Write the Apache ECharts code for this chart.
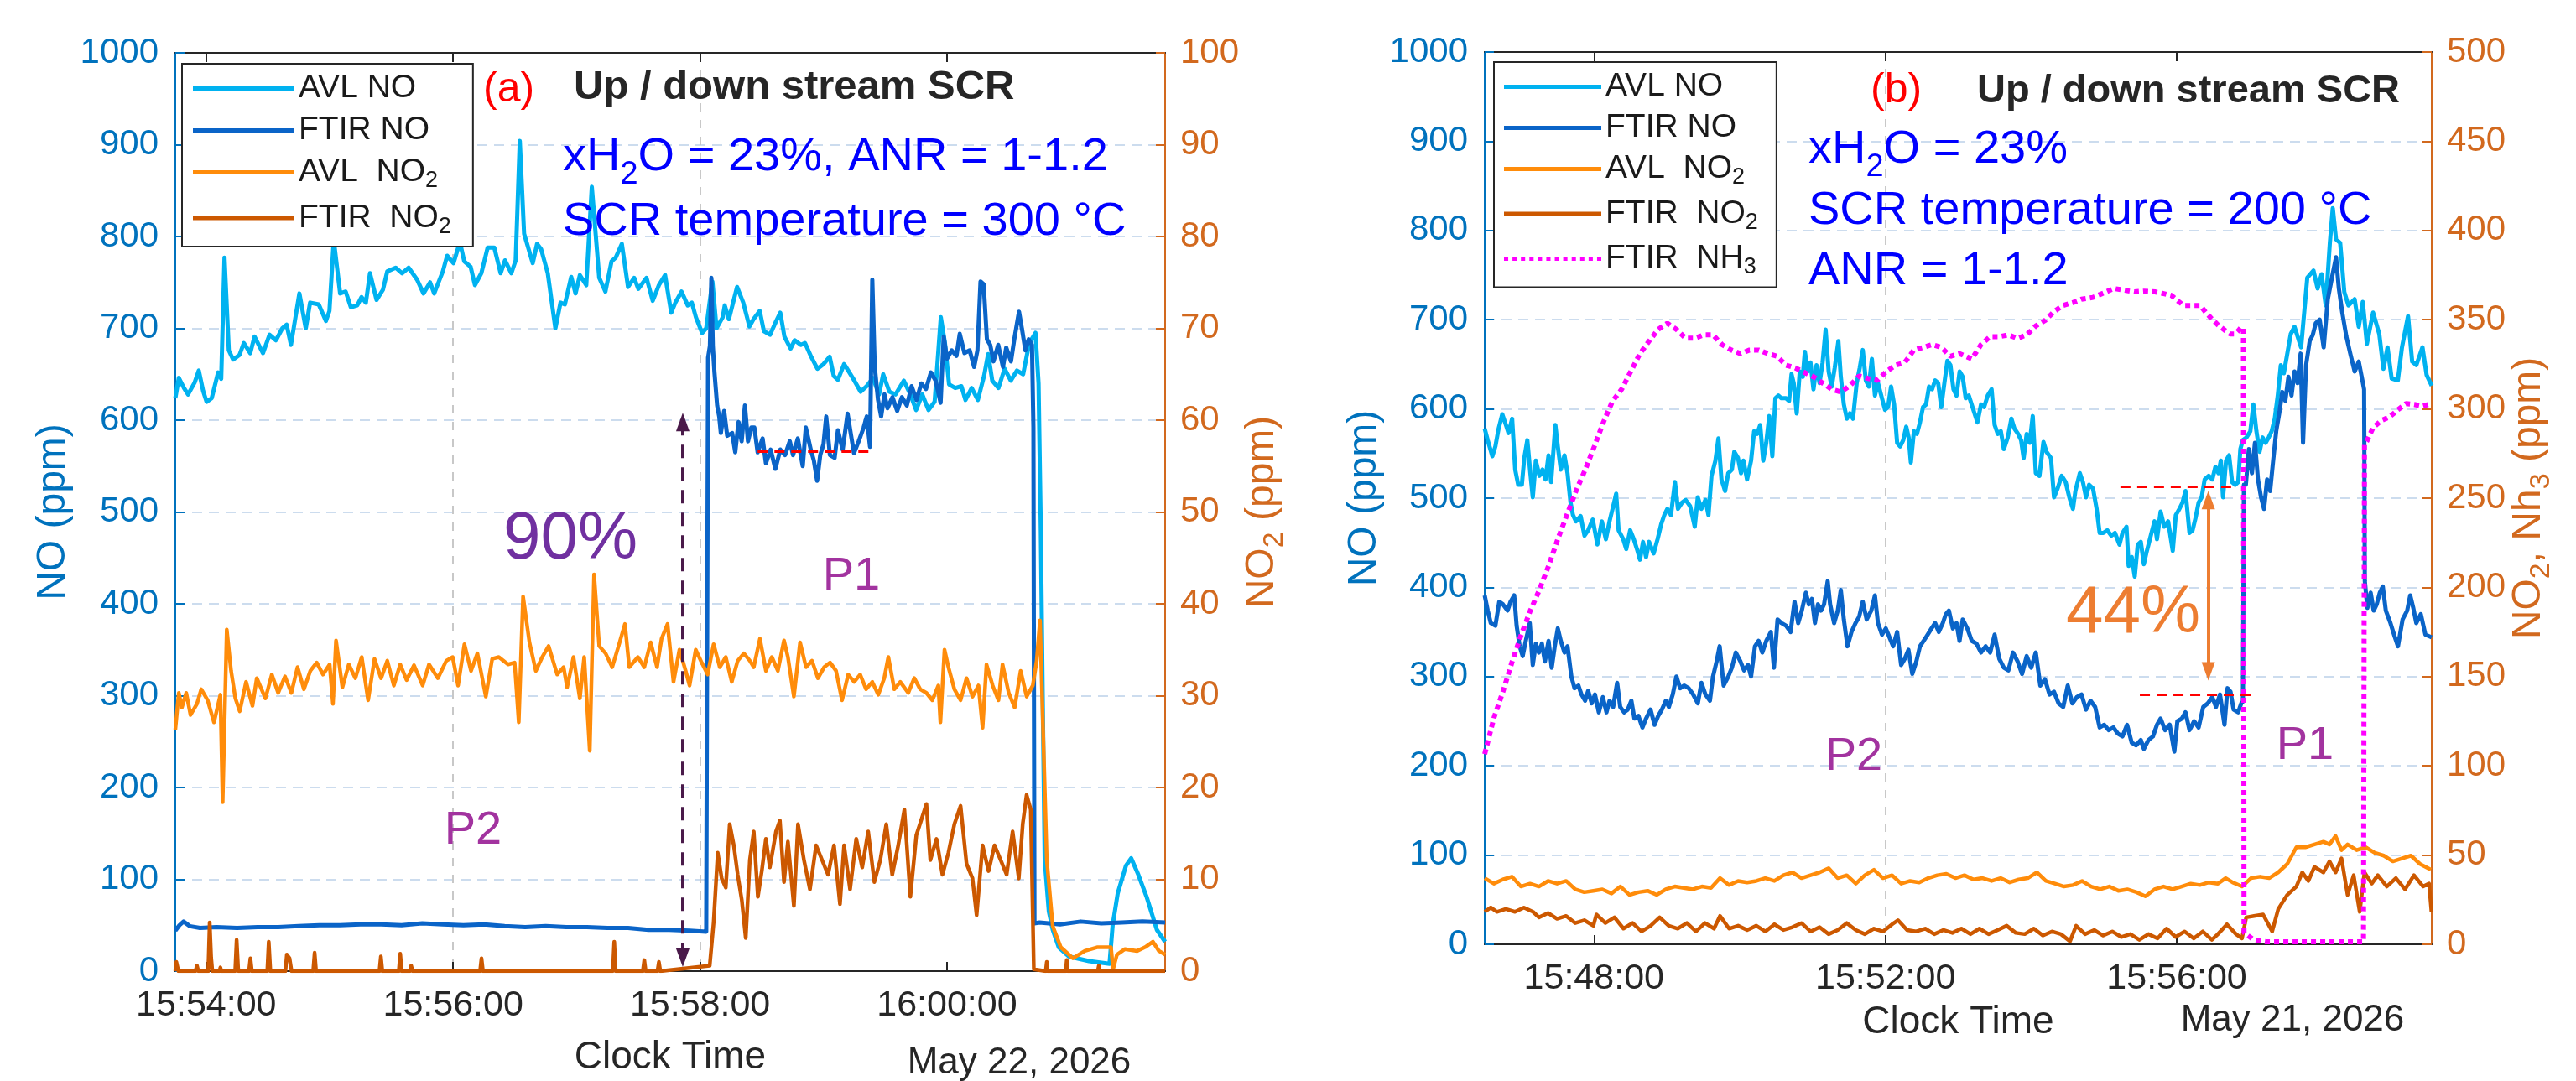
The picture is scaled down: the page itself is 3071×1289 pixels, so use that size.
<!DOCTYPE html>
<html><head><meta charset="utf-8">
<script src="https://cdn.jsdelivr.net/npm/echarts/dist/echarts.min.js"></script>
<style>html,body{margin:0;padding:0;background:#fff}#c{width:3071px;height:1289px}</style>
</head><body><div id="c"></div>
<script>
// ---------- DATA ----------
// time ranges and tick labels (clock time)
const leftRange = ['15:53:45', '16:01:46'];
const rightRange = ['15:46:30', '15:59:30'];
const leftTickLabels = ['15:54:00', '15:56:00', '15:58:00', '16:00:00'];
const rightTickLabels = ['15:48:00', '15:52:00', '15:56:00'];
const leftDate = 'May 22, 2026';
const rightDate = 'May 21, 2026';

// Panel (a): [seconds after leftRange start, value]
const aAvlNo = [[0,624],[1.7,646],[4.2,635],[6.2,628],[9.4,641],[11.4,654],[13.5,632],[15.2,620],[17.7,624],[20.8,652],[22.3,645],[23.9,777],[26,676],[28.1,666],[31.2,671],[33.3,684],[36.4,673],[38.5,691],[42.6,673],[45.8,693],[48.9,687],[52,700],[54.1,704],[56.2,682],[60.3,738],[63.4,700],[65.5,728],[69.7,726],[73.2,708],[74.9,719],[77,796],[80.1,738],[82.8,740],[85.3,723],[88.4,725],[90.5,734],[92.6,728],[94.6,760],[97.8,731],[100.9,742],[103,762],[107.1,766],[110.2,760],[113.4,766],[117.5,753],[120.6,738],[123.8,750],[125.8,738],[130,762],[132.1,779],[135.2,771],[138.3,794],[140.4,773],[143.5,767],[145.6,747],[148.7,760],[151.8,788],[155,788],[158.1,760],[160.2,774],[163.3,760],[165.4,774],[167.4,904],[169.5,803],[173.7,771],[175.8,792],[177.8,786],[181,760],[184.7,700],[187.2,728],[189.3,726],[192.4,756],[194.5,738],[196.6,758],[199.7,747],[202.4,854],[206,755],[209,740],[212,773],[214,777],[217,792],[220,745],[223,755],[225,743],[229,755],[232,730],[235,747],[238,758],[241,717],[243,728],[246,740],[249,725],[251,728],[253,712],[256,695],[258,700],[261,751],[263,700],[266,712],[267,725],[269,710],[273,745],[276,728],[279,702],[281,710],[284,719],[286,697],[289,693],[292,708],[294,717],[296,691],[299,678],[301,687],[304,682],[306,684],[309,669],[312,656],[315,661],[318,669],[320,648],[322,644],[325,661],[327,654],[330,643],[333,631],[336,637],[339,646],[342,628],[344,650],[347,631],[350,628],[354,643],[357,629],[360,611],[363,628],[366,611],[369,620],[372,712],[374,684],[376,639],[379,635],[382,637],[384,622],[387,635],[390,622],[393,648],[395,672],[397,643],[400,635],[403,656],[406,643],[409,654],[412,650],[415,684],[418,695],[419.5,640],[420.6,480],[421.5,300],[422.5,121],[424.5,65],[426.4,45],[429.3,26],[434.2,16],[444,11],[454,8],[455.5,50],[458,85],[462,115],[464.5,123],[468,105],[472,81],[477,45],[481,32]];
const aFtirNo = [[0,44],[2,50],[4,54],[7,49],[12,47],[20,48],[30,47],[40,48],[50,48],[60,49],[70,50],[80,50],[90,51],[100,51],[110,50],[120,52],[130,51],[140,50],[150,51],[160,49],[170,48],[180,49],[190,48],[200,48],[210,47],[220,47],[230,45],[240,45],[250,44],[258,43],[258.9,668],[259.8,681],[260.5,755],[261.2,681],[262,652],[263.3,616],[264.3,604],[265.1,586],[266.7,610],[268.2,583],[270.6,586],[272.1,565],[273.7,598],[275.2,577],[276.8,616],[278.3,577],[279.9,592],[281.4,592],[283,565],[285.4,580],[287,553],[289.3,568],[291.6,547],[294,568],[296.3,562],[298.6,577],[300.2,562],[302.5,580],[304.9,550],[306.4,592],[308.8,568],[310.3,556],[311.9,534],[313.4,562],[315,574],[316.3,604],[318.1,562],[320.4,559],[322,589],[324.3,568],[326.7,607],[328.2,586],[329.8,564],[332.1,577],[334.5,592],[336,604],[337.6,571],[338.7,753],[339.9,658],[341.5,622],[343,604],[344.6,628],[346.1,613],[348.5,625],[350.8,610],[353.1,625],[355.5,616],[357.8,637],[360.2,622],[362.5,640],[364.8,634],[367.2,652],[369.5,643],[371.9,619],[373.4,691],[375,667],[377.3,676],[379.6,670],[381.2,694],[383.5,673],[386,676],[388.2,658],[389.8,676],[391.3,751],[392.8,748],[394.4,688],[396,682],[397.6,664],[399.9,682],[402.2,658],[403.8,679],[406.1,664],[407.7,688],[410,718],[411.6,697],[413.1,676],[414.7,688],[416.3,682],[417,592],[417.5,52],[420,53],[430,51],[440,54],[450,52],[460,53],[470,54],[481,53]];
const aAvlNo2 = [[0,26.3],[1.7,30.3],[3.2,28.7],[5.3,30.3],[7.4,27.9],[10.5,29.1],[12.6,30.7],[15.7,29.5],[18.8,27.1],[21.9,30.1],[23,18.4],[25,37.2],[27.1,32.7],[29.2,29.7],[31.3,28.3],[34.4,31.5],[37.5,28.9],[39.6,31.9],[43.8,29.7],[46.9,32.3],[50,30.3],[53.3,32.1],[56.4,30.3],[59.4,33.1],[62.5,30.7],[65.6,32.7],[68.7,33.6],[71.8,32.3],[75,33.4],[76.6,29.1],[78.1,36],[81.2,30.9],[84.3,33.4],[87.5,31.9],[90.6,34.2],[93.7,29.5],[96.8,34],[100,31.9],[103,33.8],[106.2,31.1],[109.3,33.4],[112.4,31.7],[116,33.3],[120.2,31.1],[123.3,33.4],[127.6,31.9],[131.7,33.8],[134.8,34.2],[137.4,31.1],[140.5,35.6],[143.7,32.7],[146.8,34.6],[150.9,29.9],[154,34],[157.2,34.2],[161.7,33.4],[164.9,33.6],[166.9,27.1],[169,40.8],[172.1,35.8],[175.2,32.7],[178.3,34.2],[181.4,35.4],[185.6,32.3],[188.7,33.1],[190.4,30.9],[193.5,34.2],[196.6,29.7],[198.7,34.2],[201.4,24],[203.5,43.2],[206,35.4],[209.1,34.6],[212.3,33.1],[215.4,35.4],[218.5,37.8],[220.6,33.1],[224.8,34.2],[227.9,33.1],[231,35.8],[234.1,33.1],[236.3,36.2],[239.2,37.8],[242.1,31.5],[245,35],[248,32.7],[249.9,31.1],[252.9,35],[255.8,33.6],[258.7,32.3],[261.6,35.6],[264.6,33.1],[267.5,34.2],[270.4,31.5],[273.3,33.8],[276.3,34.6],[279.2,33.8],[281.1,33.1],[284.1,36.2],[287,32.7],[289.9,34.2],[292.8,32.7],[295.8,36],[297.7,34.2],[300.6,29.9],[303.6,35.8],[306.5,33.1],[309.4,33.8],[312.3,31.9],[315.3,33.1],[318.2,33.6],[321.1,32.7],[324,29.5],[327,32.3],[329.9,31.5],[332.8,32.3],[335.7,30.7],[338.7,31.5],[341.6,30.1],[344.5,31.9],[346.5,34.2],[349.4,30.7],[352.3,31.5],[356.2,30.3],[359.1,31.9],[362,30.7],[365,30.3],[367.9,29.5],[370.8,31.1],[371.8,27.1],[373.8,35],[375.7,33.1],[378.6,30.7],[381.6,29.5],[384.5,31.9],[387.4,29.9],[390.3,31.1],[392.3,26.5],[394.2,33.4],[397.2,31.1],[400,29.5],[402,33.4],[405,30.3],[407.9,28.7],[410.8,32.7],[413.7,29.9],[416.7,31.1],[418.6,33.8],[420.2,38.2],[421.5,27.9],[423.5,12.1],[426.4,4.9],[430.3,2.6],[436.2,1.4],[442,2.2],[447.9,2.6],[454.7,2.6],[455.7,0.2],[457.6,1.8],[461.5,2.4],[467.4,2.2],[471.2,2.6],[475.1,3.2],[478,2.2],[481,1.8]];
const aFtirNo2 = [[0,0],[0.5,1.0],[1.5,0],[9.8,0],[10.5,0.6],[11.2,0],[16,0],[16.7,5.3],[17.4,1.5],[18,0],[21.5,0],[21.9,0.4],[22.4,0],[29.1,0],[29.8,3.4],[30.6,0],[35.8,0],[36.5,1.4],[37.2,0],[44.7,0],[45.4,3.2],[46.2,0],[53.5,0],[54.2,1.8],[55.5,1.4],[56.5,0],[67,0],[67.7,2.0],[68.4,0],[99.2,0],[99.9,1.6],[100.6,0],[108.6,0],[109.3,1.9],[110,0],[114,0],[114.6,0.6],[115.3,0],[148.1,0],[148.8,1.4],[149.5,0],[212.6,0],[213.3,3.2],[214,0],[227.2,0],[227.9,1.2],[228.6,0],[234.3,0],[235,1.0],[235.7,0],[259.7,0.6],[261.6,5.3],[263.6,12.9],[265.5,10.1],[267.5,9.1],[269.4,16],[271.4,13.7],[273.3,10.5],[275.3,7.7],[277.2,3.6],[279.2,12.1],[281.1,15.2],[283.1,8.1],[285,10.9],[287,14.4],[288.9,11.3],[291.9,15.2],[293.8,16.4],[295.8,9.7],[297.7,14.1],[300.6,7.1],[302.6,16],[305.5,12.1],[308.4,8.9],[311.4,13.7],[314.3,12.1],[317.2,10.5],[320.1,13.7],[323,7.3],[325,13.7],[327.9,8.9],[330.9,14.4],[333.8,11.3],[336.7,15.2],[339.7,9.7],[342.6,12.1],[345.5,16],[348.4,10.5],[351.3,13.7],[354.3,17.6],[357.2,8.1],[360.1,14.8],[363,16.8],[365,18.2],[366.9,12.1],[369.9,14.4],[372.8,10.5],[375.7,12.9],[378.6,16],[381.6,18],[384.5,11.7],[387.4,10.1],[389.4,6.1],[392.3,13.7],[395.2,10.9],[398.1,13.7],[401.1,12.1],[404,10.5],[406.9,15.2],[409.9,10.1],[411.8,16],[413.7,19.2],[415.7,17.6],[417.2,0.2],[423,0],[423.5,1.0],[424,0],[432.7,0],[433.2,1.2],[433.7,0],[448.3,0],[448.8,0.6],[449.3,0],[481,0]];

// Panel (b): [seconds after rightRange start, value]
const bAvlNo = [[0,578],[2.5,565],[6.3,547],[8.8,558],[11.3,577],[14.5,594],[17.5,582],[19.6,573],[22.6,589],[25.1,532],[27.6,515],[30.6,515],[32.6,545],[35.1,565],[37.6,528],[39.6,501],[42.1,542],[45.1,525],[47.6,532],[50.1,521],[52.6,548],[54.7,518],[58.2,582],[60.2,558],[62.7,532],[65.7,548],[68.2,528],[70.7,495],[72.7,481],[75.2,474],[79,480],[82.2,458],[85.2,464],[89,476],[92.8,448],[96.5,474],[99.8,454],[102.8,474],[105.3,488],[108.3,505],[110.3,464],[114.1,454],[116.6,443],[119.8,464],[122.8,454],[125.4,443],[127.9,431],[130.4,451],[132.9,434],[135.4,451],[139.1,438],[142.4,454],[145.4,471],[147.9,481],[150.4,488],[153.4,481],[156.7,518],[159.2,488],[162.5,495],[165.5,498],[169.2,491],[173,468],[175.5,501],[178.5,488],[181.8,498],[184.3,481],[186.8,525],[190,542],[192.5,567],[195,521],[198,508],[200.6,528],[203.6,532],[205.6,552],[208.6,545],[211.1,528],[213.1,542],[216.1,521],[219.4,542],[221.9,575],[224.4,572],[226.9,582],[229.4,542],[231.9,562],[234.4,592],[236.9,547],[239.4,612],[241.9,615],[244.4,612],[248.2,612],[250.7,609],[252.7,639],[254.5,629],[257,595],[259.5,642],[262,636],[263.7,664],[266.2,642],[268.3,652],[270.8,622],[273.3,649],[275.8,629],[278.3,652],[280.8,689],[283.3,642],[285.8,625],[288.3,646],[291.3,676],[293.3,636],[295.8,605],[298.3,589],[300.8,595],[303.3,589],[306.4,629],[308.9,646],[311.4,666],[313.9,632],[316.4,625],[318.9,656],[321.4,615],[323.9,629],[327.2,612],[329.7,599],[332.2,602],[334.7,625],[337.2,605],[339.7,562],[342.2,558],[344.7,565],[347.2,580],[349.2,568],[351,540],[353.5,575],[356,572],[358.5,585],[361,602],[363.5,605],[366,625],[368.5,622],[371,632],[373.5,629],[376,602],[378.6,629],[381.1,654],[383.6,649],[386.1,622],[388.6,615],[391.2,642],[393.7,636],[396.2,612],[398.7,615],[402.5,599],[405.8,585],[408.8,605],[411.3,602],[414.3,615],[417.5,622],[420,582],[422.6,572],[425.1,575],[427.6,555],[430.8,568],[433.8,589],[436.3,578],[439.3,572],[441.8,565],[443.9,545],[446.4,572],[448.9,562],[451.4,592],[453.9,528],[456.9,525],[460.2,563],[462.7,552],[466.4,545],[468.9,501],[471.9,511],[475.2,525],[478.5,518],[481.5,501],[484.5,488],[486.5,508],[490.2,528],[492.7,518],[495.3,501],[497.8,515],[501,511],[504,488],[506.5,461],[509.5,461],[512.8,464],[516.1,458],[519.1,461],[522.8,448],[525.3,461],[528.6,468],[530.4,424],[532.9,434],[535.4,412],[537.9,448],[540.4,451],[542.9,426],[545.4,441],[549.2,461],[551.7,474],[553.7,454],[556.7,485],[559.7,468],[562.9,474],[566.7,441],[569.2,481],[572.2,488],[574.7,495],[577.2,508],[580.5,461],[583,464],[585.5,478],[588,495],[590.5,501],[593,521],[596.3,525],[599.3,521],[601.8,535],[604.3,528],[606.3,542],[608.1,501],[610.6,542],[613.1,548],[615.6,518],[618.1,515],[620.6,518],[622.4,555],[624.4,565],[627.4,568],[630.6,575],[633.1,605],[635.6,575],[638.2,552],[640.7,568],[643.2,562],[645.7,568],[648.2,575],[650.7,589],[653.2,615],[655.7,649],[658.2,640],[663.9,684],[667,692],[672.4,669],[677.5,747],[682.6,755],[686,735],[689.3,751],[692.7,716],[696.1,786],[698.5,825],[701.2,790],[704.6,786],[708,731],[711.4,716],[716.5,723],[719.9,692],[723.2,720],[726.6,673],[731.7,708],[736.8,684],[740.2,645],[743.6,669],[747,634],[752.1,632],[755.5,669],[760.5,704],[763.9,653],[767.3,649],[772.4,669],[775.8,638],[780,626]];
const bFtirNo = [[0,391],[2.5,374],[5,360],[8.8,357],[12,384],[15,381],[18.8,374],[21.3,384],[24.3,391],[26.3,357],[28.8,334],[31.3,323],[33.8,340],[37.1,360],[39.6,313],[42.1,337],[44.6,327],[47.1,337],[49.6,317],[52.6,340],[55.2,310],[57.7,334],[60.2,354],[62.7,340],[65.7,327],[68.2,334],[71.4,300],[74,287],[77.2,290],[79.7,280],[82.7,273],[85.2,284],[88.2,270],[90.8,280],[94,260],[97.3,277],[100.3,260],[102.8,273],[105.8,266],[109.1,293],[111.6,266],[114.8,260],[117.8,263],[120.8,273],[123.3,253],[126.6,256],[129.9,243],[132.9,253],[136.6,263],[139.9,246],[142.9,256],[145.9,263],[149.2,273],[151.7,266],[154.9,280],[157.9,300],[161,287],[164.2,290],[168,287],[171.7,280],[175.5,270],[178.5,293],[181.8,280],[185.5,273],[188,300],[191,317],[193.5,334],[196.8,290],[200.6,300],[203.6,310],[206.8,327],[210.6,317],[213.6,307],[216.9,313],[219.4,300],[222.6,334],[225.6,340],[228.6,327],[231.9,340],[235.7,350],[238.2,310],[241.2,364],[244.4,360],[248.2,357],[251.9,350],[255.2,384],[258.2,360],[261.2,374],[264.5,394],[267,381],[269.5,387],[272,360],[274.5,381],[277,374],[279.5,381],[282.5,407],[284.5,381],[287.8,360],[290.8,374],[293.3,397],[295.8,364],[298.8,334],[302.1,350],[305.4,360],[308.4,367],[311.4,384],[314.6,364],[318.4,374],[321.4,391],[323.9,360],[327.2,347],[330.4,354],[333.4,344],[336.4,334],[339.7,350],[343,313],[346,320],[349,330],[352.2,303],[355.5,317],[358.5,334],[361.5,340],[364.8,347],[368,354],[371,360],[374,350],[377.3,360],[379.8,370],[382.3,374],[385.6,354],[388.6,360],[391.1,340],[393.7,364],[397.5,354],[401.2,340],[405,337],[408.8,327],[412.6,334],[416.3,327],[420,347],[423.8,320],[427.6,310],[431.3,307],[435.1,327],[438.9,317],[442.6,303],[446.4,323],[450.1,310],[453.9,327],[457.6,290],[461.4,297],[465.2,280],[468.9,283],[472.7,270],[476.5,266],[480.2,290],[484,270],[487.7,277],[491.5,280],[495.3,263],[499,273],[502.8,266],[506.5,243],[510.3,246],[514,240],[517.8,243],[521.6,236],[525.3,233],[529.1,246],[532.9,226],[536.6,223],[540.4,229],[542.9,219],[546.7,229],[550.4,233],[553.7,246],[556.7,253],[560.4,240],[564.2,246],[568,216],[570.5,250],[574.2,253],[577.2,260],[580.5,240],[584.3,250],[588,243],[591.8,266],[595.5,270],[599.3,277],[602.3,266],[605.6,280],[609.3,246],[611.8,287],[614.3,283],[616.8,263],[620.6,260],[623.1,270],[624.5,272],[625.3,515],[626.9,515],[629.4,555],[631.9,528],[634.4,562],[636.9,521],[639.4,501],[641.9,488],[644.4,521],[646.9,508],[649.4,542],[651.9,575],[654.4,595],[656.9,619],[659.4,609],[662,636],[664.5,615],[667,642],[669.5,629],[672,662],[674,562],[676.5,649],[679.5,676],[682,683],[684.5,696],[687.7,700],[691,669],[694.4,723],[697.8,747],[701.2,770],[703.5,735],[706.3,708],[709.7,681],[713.1,661],[716.5,642],[719.9,653],[723.2,630],[724.3,622],[724.9,407],[727,377],[729.7,394],[732.2,374],[734.7,381],[737.2,394],[739.7,401],[742.2,374],[746,360],[749.7,344],[752.2,334],[756,364],[759.8,374],[762.3,391],[764.8,377],[767.3,360],[771,370],[774.8,347],[780,344]];
const bAvlNo2 = [[0,37.1],[7.5,34.0],[14.9,36.3],[22.4,37.9],[29.8,32.4],[37.3,34.0],[44.7,32.4],[52.2,35.5],[59.6,34.0],[67.1,35.5],[74.6,30.8],[82,29.2],[89.5,30.0],[96.9,30.8],[104.4,28.5],[111.8,32.4],[119.3,27.7],[126.7,29.2],[134.2,30.0],[141.6,27.7],[149.1,30.8],[156.6,32.4],[164,31.6],[171.5,30.8],[178.9,32.4],[186.4,31.6],[193.8,37.1],[201.3,33.2],[208.7,35.5],[216.2,34.7],[223.7,35.5],[231.1,37.1],[238.6,35.5],[246,38.7],[253.5,40.3],[260.9,37.1],[268.4,38.7],[275.8,40.3],[283.3,42.6],[290.7,37.1],[298.2,38.7],[305.7,34.0],[313.1,38.7],[320.6,41.8],[328,37.1],[335.5,38.7],[343,34.0],[350.4,35.5],[357.9,34.7],[365.3,37.1],[372.8,38.7],[380.2,39.5],[387.7,37.1],[395.1,38.7],[402.6,36.3],[410,37.1],[417.5,35.5],[424.9,37.1],[432.4,34.7],[439.8,36.3],[447.3,37.1],[454.8,40.3],[462.2,35.5],[469.7,34.0],[477.1,32.4],[484.6,33.2],[492,35.5],[499.5,32.4],[506.9,30.8],[514.4,32.4],[521.9,30.0],[529.3,30.8],[536.8,29.2],[544.2,26.9],[551.7,30.8],[559.1,32.4],[566.6,30.8],[574,32.4],[581.5,34.0],[589,33.2],[596.4,34.7],[603.9,34.0],[610.3,37.1],[616,34.7],[623.7,32.4],[631.2,37.1],[638.6,37.9],[646.1,37.1],[653.5,40.3],[661,45.0],[668.5,54.4],[675.9,54.4],[683.4,56.0],[690.8,57.5],[695.8,56.0],[700.8,60.7],[705.7,52.8],[710.7,56.0],[718.2,52.8],[725.6,54.4],[733.1,51.3],[740.5,49.7],[748,46.5],[755.4,48.1],[762.9,49.7],[770.4,45.0],[779.3,41.8]];
const bFtirNo2 = [[0,18.2],[5,20.6],[10,18.2],[17.4,19.8],[24.9,18.2],[32.3,20.6],[39.8,18.2],[44.7,15.1],[52.2,17.5],[59.6,14.3],[67.1,15.9],[74.6,11.9],[82,13.5],[89.5,10.4],[92,16.7],[99.4,11.9],[106.9,15.1],[114.3,8.8],[121.8,11.9],[129.2,7.2],[136.7,10.4],[144.1,15.1],[151.6,10.4],[159,8.8],[166.5,11.9],[174,7.2],[181.4,11.9],[188.9,8.8],[193.8,15.9],[201.3,8.8],[208.7,10.4],[216.2,8.0],[223.7,10.4],[231.1,7.2],[238.6,11.2],[246,8.0],[253.5,9.6],[260.9,11.9],[268.4,7.2],[275.8,9.6],[283.3,5.7],[290.7,8.0],[298.2,11.9],[305.7,8.0],[313.1,5.7],[320.6,8.8],[328,7.2],[335.5,11.2],[340.4,13.5],[347.9,8.0],[355.4,7.2],[362.8,8.8],[370.3,5.7],[377.7,8.0],[385.2,6.4],[392.6,8.8],[400.1,5.7],[407.5,8.8],[415,5.7],[422.5,8.0],[429.9,10.4],[437.4,6.4],[444.8,5.7],[452.3,8.8],[459.7,4.9],[467.2,7.2],[474.6,5.7],[482.1,1.7],[487.1,10.4],[494.5,5.7],[502,8.0],[509.4,4.9],[516.9,7.2],[524.3,4.1],[531.8,5.7],[539.2,2.5],[546.7,5.7],[554.2,3.3],[561.6,8.8],[569.1,4.1],[576.5,7.2],[584,3.3],[591.4,7.2],[598.9,2.5],[603.9,5.7],[611.3,11.2],[618.8,5.7],[623.7,3.3],[627.2,15.1],[633.7,15.9],[641.1,16.7],[648.6,7.2],[653.6,19.8],[661,27.7],[668.5,32.4],[673.4,40.3],[678.4,35.5],[683.4,43.4],[690.8,40.3],[695.8,46.5],[700.8,40.3],[705.7,48.1],[710.7,27.7],[715.7,38.7],[720.7,18.2],[724.6,40.3],[730.6,34.0],[735.6,38.7],[743,32.4],[750.5,37.1],[758,30.8],[765.4,38.7],[772.9,32.4],[777.8,34.0],[779.8,18.2]];
const bFtirNh3 = [[0,106.6],[7.5,126.7],[15,141.6],[22.6,158.4],[30.1,173.5],[37.6,187],[45.1,198.7],[52.6,212],[60.2,227],[67.7,240.6],[75.2,254],[82.7,265.8],[90.3,279],[97.8,292.6],[105.3,304.4],[112.8,311],[120.3,321],[127.9,331],[135.4,338],[142.9,344.6],[150.4,348],[157.9,344.6],[165.5,339.6],[173,339.6],[180.5,341.5],[188,341.5],[195.5,336],[203.1,333],[210.6,331],[218.1,333],[225.6,333],[233.2,331],[240.7,329.5],[248.2,324.5],[255.7,323],[263.2,320.5],[270.8,318],[278.3,314.5],[285.8,311],[293.3,309.5],[300.8,313],[308.4,318.5],[315.9,317],[323.4,316],[330.9,321],[338.4,324.5],[346,326],[353.5,333],[361,334.5],[368.5,336],[376,334.5],[383.6,329.5],[391.1,331],[401.2,328],[408.8,336],[416.3,340.5],[423.8,340.5],[431.3,341.5],[438.8,339.5],[446.4,341.5],[453.9,346.5],[461.4,349.5],[468.9,354.5],[476.4,358],[484.2,359.5],[491.5,361.5],[501.1,362.5],[510,365],[518.1,367.5],[527,366.5],[535,365.6],[543,366],[552,365.6],[560,364.5],[565.6,363.6],[570,361],[575.7,358],[582,358],[589.3,358],[594,354],[599.5,350],[604,347],[609.7,344],[614,342],[618.1,342],[621,344],[623.2,346],[624.9,345],[625.4,6.6],[633.4,2.5],[643.6,1.4],[704.6,1.4],[723.8,1.4],[724.6,280],[726.6,282],[731.7,289.5],[738.5,293.5],[745.3,295.5],[752.1,299.5],[758.9,303],[765.6,302.5],[772.4,301.5],[780,303]];

// Annotation values
const aRefLine = {t: [283, 338.8], v: 566};          // red dashed line (a)
const aArrow = {t: 246.6, v: [598, 14.6]};            // 90% arrow (a)
const bRefUpper = {t: [523.6, 619.4], v: 513};        // red dashed (b) upper
const bRefLower = {t: [539.6, 634.4], v: 280};        // red dashed (b) lower
const bArrow = {t: 596, v: [498, 306]};               // 44% arrow (b)

// ---------- HELPERS ----------
const FONT = '"Liberation Sans", Arial, Helvetica, sans-serif';
const C_AXL = '#0072BD', C_AXR = '#D2691E', C_TXT = '#262626';
const C_AVLNO = '#00B2F0', C_FTIRNO = '#0A64C8', C_AVLNO2 = '#FF8C0A', C_FTIRNO2 = '#CC5800', C_NH3 = '#FF00FF';
function toSec(s){ const p = s.split(':').map(Number); return p[0]*3600 + p[1]*60 + p[2]; }
function hms(v){ v = Math.round(v); const h = Math.floor(v/3600), m = Math.floor((v%3600)/60), s = v%60;
  return String(h).padStart(2,'0') + ':' + String(m).padStart(2,'0') + ':' + String(s).padStart(2,'0'); }
const L0 = toSec(leftRange[0]), L1 = toSec(leftRange[1]);
const R0 = toSec(rightRange[0]), R1 = toSec(rightRange[1]);
const leftTicks = leftTickLabels.map(toSec), rightTicks = rightTickLabels.map(toSec);
const xy = (arr, st) => arr.map(p => [st + p[0], p[1]]);

const legendNames = {
  'AVL NO': '{t|AVL NO}', 'FTIR NO': '{t|FTIR NO}',
  'AVL NO2': '{t|AVL  NO}{s|2}', 'FTIR NO2': '{t|FTIR  NO}{s|2}', 'FTIR NH3': '{t|FTIR  NH}{s|3}'
};
const dottedIcon = 'path://M0,0h1v1h-1zM2,0h1v1h-1zM4,0h1v1h-1zM6,0h1v1h-1zM8,0h1v1h-1zM10,0h1v1h-1zM12,0h1v1h-1zM14,0h1v1h-1zM16,0h1v1h-1zM18,0h1v1h-1zM20,0h1v1h-1zM22,0h1v1h-1z';

function xBottom(g, min, max, ticks, gap){
  return {type:'value', gridIndex:g, min, max, position:'bottom',
    axisLine:{show:true, onZero:false, lineStyle:{color:C_TXT, width:2}},
    axisTick:{show:true, inside:true, length:11, customValues:ticks, lineStyle:{color:C_TXT, width:2}},
    axisLabel:{show:true, customValues:ticks, formatter:hms, color:C_TXT, fontSize:43, fontFamily:FONT, margin:20},
    splitLine:{show:true, showMinLine:false, showMaxLine:false, lineStyle:{color:'#C8C8C8', type:[10,10], width:2}},
    name:'Clock Time', nameLocation:'middle', nameGap:gap,
    nameTextStyle:{color:C_TXT, fontSize:46, lineHeight:46, fontFamily:FONT}};
}
function xTop(g, min, max, ticks){
  return {type:'value', gridIndex:g, min, max, position:'top',
    axisLine:{show:true, onZero:false, lineStyle:{color:C_TXT, width:2}}, axisLabel:{show:false}, splitLine:{show:false},
    axisTick:{show:true, inside:true, length:11, customValues:ticks, lineStyle:{color:C_TXT, width:2}}};
}
function yLeft(g, gap){
  return {type:'value', gridIndex:g, min:0, max:1000, interval:100, position:'left',
    axisLine:{show:true, onZero:false, lineStyle:{color:C_AXL, width:2}},
    axisTick:{show:true, inside:true, length:11, lineStyle:{color:C_AXL, width:2}},
    axisLabel:{color:C_AXL, fontSize:42, fontFamily:FONT, margin:20, formatter:v => String(v)},
    splitLine:{show:true, showMinLine:false, showMaxLine:false, lineStyle:{color:'#CCDCEE', type:[12,8], width:2}},
    name:'NO (ppm)', nameLocation:'middle', nameGap:gap,
    nameTextStyle:{color:C_AXL, fontSize:48, lineHeight:48, fontFamily:FONT}};
}
function yRight(g, max, interval, name, gap){
  return {type:'value', gridIndex:g, min:0, max, interval, position:'right',
    axisLine:{show:true, onZero:false, lineStyle:{color:C_AXR, width:2}},
    axisTick:{show:true, inside:true, length:11, lineStyle:{color:C_AXR, width:2}},
    axisLabel:{color:C_AXR, fontSize:42, fontFamily:FONT, margin:18, formatter:v => String(v)},
    splitLine:{show:false},
    name, nameLocation:'middle', nameGap:gap,
    nameTextStyle:{color:C_AXR, fontFamily:FONT, fontSize:48,
      rich:{a:{fontSize:48, lineHeight:64, color:C_AXR, fontFamily:FONT},
            s:{fontSize:34, lineHeight:34, verticalAlign:'bottom', color:C_AXR, fontFamily:FONT}}}};
}
function line(name, data, xi, yi, color, width, extra){
  return Object.assign({type:'line', name, data, xAxisIndex:xi, yAxisIndex:yi,
    showSymbol:false, symbol:'none', animation:false, silent:true,
    lineStyle:{color, width, join:'round'}, itemStyle:{color}}, extra || {});
}
function refLine(st, r, color){
  return {silent:true, animation:false, symbol:['none','none'], label:{show:false},
    lineStyle:{color, type:[12,8], width:3},
    data:[[{coord:[st + r.t[0], r.v]}, {coord:[st + r.t[1], r.v]}]]};
}
function arrowLine(st, a, color, dash){
  return {silent:true, animation:false, symbol:['triangle','triangle'], symbolSize:[16,22], label:{show:false},
    lineStyle:{color, type:dash, width:4},
    data:[[{coord:[st + a.t, a.v[0]]}, {coord:[st + a.t, a.v[1]]}]]};
}
function legend(left, top, names, itemWidth, gap, pad){
  return {show:true, orient:'vertical', left, top, selectedMode:false,
    data:names.map(n => ({name:n, icon: n === 'FTIR NH3' ? dottedIcon : 'rect'})),
    symbolKeepAspect:false,
    itemWidth, itemHeight:5, itemGap:gap, padding:pad, backgroundColor:'#fff',
    borderColor:C_TXT, borderWidth:2,
    formatter:n => legendNames[n],
    textStyle:{fontSize:39, fontFamily:FONT, color:'#1a1a1a',
      rich:{t:{fontSize:39, lineHeight:48, color:'#1a1a1a', fontFamily:FONT},
            s:{fontSize:27, lineHeight:27, verticalAlign:'bottom', color:'#1a1a1a', fontFamily:FONT}}}};
}
function txt(x, y, text, size, fill, extra){
  return {type:'text', x, y, silent:true, z:100,
    style:Object.assign({text, fontFamily:FONT, fontSize:size, fill, align:'left', verticalAlign:'middle'}, extra || {})};
}
const blueRich = {m:{fontSize:56, lineHeight:80, fill:'#0000FF', color:'#0000FF', fontFamily:FONT},
                  s:{fontSize:38, lineHeight:38, verticalAlign:'bottom', fill:'#0000FF', color:'#0000FF', fontFamily:FONT}};

// ---------- OPTION ----------
const option = {
  backgroundColor:'#fff',
  animation:false,
  grid:[
    {left:209, top:63, width:1180, height:1110, show:true, borderColor:C_TXT, borderWidth:2, backgroundColor:'transparent'},
    {left:1770, top:62, width:1129, height:1064, show:true, borderColor:C_TXT, borderWidth:2, backgroundColor:'transparent'}
  ],
  xAxis:[ xBottom(0, L0, L1, leftTicks, 80), xTop(0, L0, L1, leftTicks),
          xBottom(1, R0, R1, rightTicks, 70), xTop(1, R0, R1, rightTicks) ],
  yAxis:[ yLeft(0, 121), yRight(0, 100, 10, '{a|NO}{s|2}{a| (ppm)}', 62),
          yLeft(1, 119), yRight(1, 500, 50, '{a|NO}{s|2}{a|, Nh}{s|3}{a| (ppm)}', 81) ],
  legend:[ legend(217, 76, ['AVL NO','FTIR NO','AVL NO2','FTIR NO2'], 121, 11, [10,26,10,13]),
           legend(1781, 74, ['AVL NO','FTIR NO','AVL NO2','FTIR NO2','FTIR NH3'], 116, 10, [10,22,10,12]) ],
  series:[
    line('AVL NO', xy(aAvlNo, L0), 0, 0, C_AVLNO, 5, {markLine: refLine(L0, aRefLine, '#FF0000')}),
    line('FTIR NO', xy(aFtirNo, L0), 0, 0, C_FTIRNO, 5, {markLine: arrowLine(L0, aArrow, '#4A1A4A', [16,11])}),
    line('AVL NO2', xy(aAvlNo2, L0), 0, 1, C_AVLNO2, 4.5),
    line('FTIR NO2', xy(aFtirNo2, L0), 0, 1, C_FTIRNO2, 4.5),
    line('AVL NO', xy(bAvlNo, R0), 2, 2, C_AVLNO, 5,
      {markLine: {silent:true, animation:false, symbol:['none','none'], label:{show:false},
        lineStyle:{color:'#FF0000', type:[12,8], width:3},
        data:[[{coord:[R0+bRefUpper.t[0], bRefUpper.v]}, {coord:[R0+bRefUpper.t[1], bRefUpper.v]}],
              [{coord:[R0+bRefLower.t[0], bRefLower.v]}, {coord:[R0+bRefLower.t[1], bRefLower.v]}]]}}),
    line('FTIR NO', xy(bFtirNo, R0), 2, 2, C_FTIRNO, 5, {markLine: arrowLine(R0, bArrow, '#ED7D31', 'solid')}),
    line('AVL NO2', xy(bAvlNo2, R0), 2, 3, C_AVLNO2, 4.5),
    line('FTIR NO2', xy(bFtirNo2, R0), 2, 3, C_FTIRNO2, 4.5),
    line('FTIR NH3', xy(bFtirNh3, R0), 2, 3, C_NH3, 6, {lineStyle:{color:C_NH3, width:6, type:[6,5], cap:'butt'}})
  ],
  graphic:[
    txt(576, 107, '(a)', 50, '#FF0000'),
    txt(684, 104, 'Up / down stream SCR', 49, C_TXT, {fontWeight:'bold'}),
    txt(671, 188, '{m|xH}{s|2}{m|O = 23%, ANR = 1-1.2}', 56, '#0000FF', {rich:blueRich}),
    txt(671, 265, 'SCR temperature = 300 °C', 56, '#0000FF'),
    txt(680, 644, '90%', 80, '#7030A0', {align:'center'}),
    txt(564, 991, 'P2', 56, '#A2339F', {align:'center'}),
    txt(1015, 688, 'P1', 56, '#A2339F', {align:'center'}),
    txt(1215, 1268, leftDate, 44, C_TXT, {align:'center'}),
    txt(2230, 108, '(b)', 50, '#FF0000'),
    txt(2357, 109, 'Up / down stream SCR', 47, C_TXT, {fontWeight:'bold'}),
    txt(2156, 179, '{m|xH}{s|2}{m|O = 23%}', 56, '#0000FF', {rich:blueRich}),
    txt(2156, 252, 'SCR temperature = 200 °C', 56, '#0000FF'),
    txt(2156, 324, 'ANR = 1-1.2', 56, '#0000FF'),
    txt(2543, 732, '44%', 80, '#ED7D31', {align:'center'}),
    txt(2210, 903, 'P2', 56, '#A2339F', {align:'center'}),
    txt(2748, 890, 'P1', 56, '#A2339F', {align:'center'}),
    txt(2733, 1217, rightDate, 44, C_TXT, {align:'center'})
  ]
};
const chart = echarts.init(document.getElementById('c'), null, {renderer:'canvas'});
chart.setOption(option);
</script></body></html>
